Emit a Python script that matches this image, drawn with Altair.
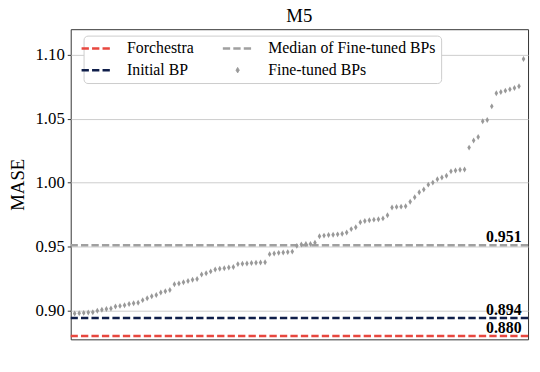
import altair as alt
import pandas as pd

# ---- data ----
fine_tuned = [
    0.8975, 0.8978, 0.8980, 0.8983, 0.8985, 0.8997, 0.9005, 0.9010, 0.9015, 0.9030,
    0.9035, 0.9040, 0.9050, 0.9055, 0.9060, 0.9080, 0.9095, 0.9110, 0.9120, 0.9140,
    0.9150, 0.9160, 0.9205, 0.9210, 0.9220, 0.9230, 0.9240, 0.9245, 0.9280, 0.9290,
    0.9305, 0.9320, 0.9325, 0.9330, 0.9335, 0.9340, 0.9362, 0.9365, 0.9367, 0.9370,
    0.9372, 0.9374, 0.9376, 0.9440, 0.9445, 0.9450, 0.9453, 0.9456, 0.9460, 0.9505,
    0.9515, 0.9520, 0.9520, 0.9530, 0.9580, 0.9585, 0.9590, 0.9592, 0.9595, 0.9600,
    0.9610, 0.9636, 0.9650, 0.9690, 0.9700, 0.9705, 0.9710, 0.9713, 0.9720, 0.9745,
    0.9805, 0.9810, 0.9812, 0.9815, 0.9850, 0.9886, 0.9925, 0.9946, 0.9984, 1.0000,
    1.0026, 1.0040, 1.0054, 1.0088, 1.0095, 1.0100, 1.0103, 1.0274, 1.0330, 1.0357,
    1.0480, 1.0490, 1.0597, 1.0700, 1.0710, 1.0720, 1.0730, 1.0740, 1.0755, 1.0967,
]
ref_names = ["Forchestra", "Initial BP", "Median of Fine-tuned BPs"]
ref_values = [0.880, 0.894, 0.951]
ref_labels = ["0.880", "0.894", "0.951"]
legend_order = ["Forchestra", "Initial BP", "Median of Fine-tuned BPs", "Fine-tuned BPs"]
legend_colors = ["#e8473f", "#0f1e4a", "#a0a0a0", "#999999"]
y_ticks = [0.90, 0.95, 1.00, 1.05, 1.10]

pts = pd.DataFrame({
    "idx": list(range(len(fine_tuned))),
    "mase": fine_tuned,
    "series": ["Fine-tuned BPs"] * len(fine_tuned),
})
refs = pd.DataFrame({
    "series": ref_names,
    "value": ref_values,
    "label": ref_labels,
    "xpos": [len(fine_tuned) - 1] * len(ref_names),
})

SERIF = "Liberation Serif"
DIAMOND = "M0,-1L0.6,0L0,1L-0.6,0Z"

yscale = alt.Scale(domain=[0.8773, 1.1201], nice=False, zero=False)
xscale = alt.Scale(domain=[-0.87, 100], nice=False, zero=False)
cscale = alt.Scale(domain=legend_order, range=legend_colors)

is_pts = "datum.value === 'Fine-tuned BPs'"
legend = alt.Legend(
    title=None,
    orient="none",
    legendX=13,
    legendY=6.5,
    columns=2,
    columnPadding=24,
    rowPadding=6,
    padding=5,
    symbolType={"expr": f"{is_pts} ? '{DIAMOND}' : 'stroke'"},
    symbolSize={"expr": f"{is_pts} ? 30 : 900"},
    symbolStrokeWidth={"expr": f"{is_pts} ? 1 : 2.5"},
    symbolDash={"expr": f"{is_pts} ? [1, 0] : [7.4, 3.2]"},
    symbolFillColor={"expr": f"{is_pts} ? '#999999' : 'transparent'"},
    labelOffset=23,
    labelLimit=400,
    labelFont=SERIF,
    labelFontSize=16,
    labelColor="black",
    fillColor="white",
    strokeColor="#cccccc",
    cornerRadius=4,
)

yaxis = alt.Axis(
    title="MASE",
    values=y_ticks,
    format=".2f",
    grid=True,
    gridColor="#cccccc",
    gridWidth=1,
    domain=False,
    tickSize=3.5,
    tickColor="#333333",
    labelPadding=3,
    labelFont=SERIF,
    labelFontSize=17,
    labelColor="black",
    titleFont=SERIF,
    titleFontSize=19,
    titleFontWeight="normal",
    titleColor="black",
    titlePadding=8,
)

rules = alt.Chart(refs).mark_rule(strokeDash=[7.4, 3.2], strokeWidth=2.5).encode(
    y=alt.Y("value:Q", scale=yscale, axis=yaxis),
    color=alt.Color("series:N", scale=cscale, legend=legend),
)

points = alt.Chart(pts).mark_point(
    shape=DIAMOND, filled=True, size=36, color="#999999", opacity=1
).encode(
    x=alt.X("idx:Q", scale=xscale, axis=None),
    y=alt.Y("mase:Q", scale=yscale),
)

labels = alt.Chart(refs).mark_text(
    align="right", baseline="alphabetic", dx=-2, dy=-3,
    font=SERIF, fontSize=16, fontWeight="bold", color="black",
).encode(
    x=alt.X("xpos:Q", scale=xscale, axis=None),
    y=alt.Y("value:Q", scale=yscale),
    text="label:N",
)

chart = alt.layer(rules, points, labels).properties(
    width=463,
    height=314,
    title=alt.Title("M5", font=SERIF, fontSize=19, fontWeight="normal", color="black",
                    offset=3.5),
    autosize=alt.AutoSizeParams(type="none"),
    padding={"left": 63.5, "top": 19.3, "right": 4, "bottom": 15},
).configure(
    font=SERIF
).configure_view(
    stroke="#333333", strokeWidth=1
)

chart.save("out.html", embed_options={"renderer": "svg", "actions": False})
